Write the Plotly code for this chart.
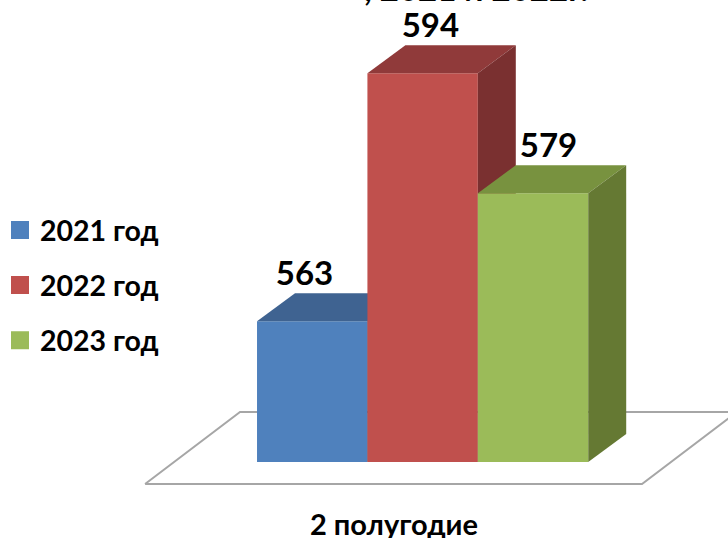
import plotly.graph_objects as go

SERIES = ["2021 год", "2022 год", "2023 год"]
VALUES = [563, 594, 579]
CATEGORY = "2 полугодие"
TITLE_TAIL = ", 2021 и 2022г."
FRONT = ["#4F81BD", "#C0504D", "#9BBB59"]
TOP = ["#3F6391", "#903A3A", "#78923F"]
SIDE = ["#35547A", "#7A3030", "#657933"]

FONT = "Lato, Carlito, 'Open Sans', sans-serif"
BASE = 545.4
DX, DY = 0.344, 3.5       # projected depth of the 3-D columns, in axis units
X_RANGE = [-2.828, 3.766]
Y_RANGE = [541.025, 603.15]
LABEL_SHIFT = [-0.07, 0.07, 0.14]

fig = go.Figure()

# floor of the 3-D plot
fl, fr, bl, br = -1.514, 2.987, -0.654, 3.847
fy, by = 542.65, 551.65
fig.add_trace(go.Scatter(x=[fl, fr, br, bl, fl], y=[fy, fy, by, by, fy], mode="lines",
                         line=dict(color="#A6A6A6", width=2), showlegend=False, hoverinfo="skip"))

for i, (name, v) in enumerate(zip(SERIES, VALUES)):
    ax = dict(xaxis="x" + str(i + 2), yaxis="y" + str(i + 2))
    l, r = i - 0.5, i + 0.5
    fig.add_trace(go.Bar(x=[i], y=[v - BASE], base=BASE, width=1, name=name, showlegend=False,
                         legendgroup=name, marker=dict(color=FRONT[i], line=dict(width=0)), **ax))
    fig.add_trace(go.Scatter(x=[l, r, r + DX, l + DX, l], y=[v, v, v + DY, v + DY, v], fill="toself",
                             mode="none", fillcolor=TOP[i], showlegend=False, hoverinfo="skip", **ax))
    fig.add_trace(go.Scatter(x=[r, r + DX, r + DX, r, r], y=[v, v + DY, BASE + DY, BASE, v], fill="toself",
                             mode="none", fillcolor=SIDE[i], showlegend=False, hoverinfo="skip", **ax))
    fig.add_trace(go.Scatter(x=[i + LABEL_SHIFT[i]], y=[v + DY], mode="text", text=[str(v)],
                             textposition="top center",
                             textfont=dict(family=FONT, size=33, color="black", weight="bold"),
                             showlegend=False, hoverinfo="skip", **ax))
    # legend key: a larger square than the fixed swatch of a bar trace
    fig.add_trace(go.Scatter(x=[None], y=[None], mode="markers", name=name, legendgroup=name,
                             marker=dict(symbol="square", size=16, color=FRONT[i],
                                         line=dict(color=FRONT[i], width=2)), **ax))

layout = dict(
    width=728, height=538, margin=dict(l=0, r=0, t=0, b=41),
    paper_bgcolor="white", plot_bgcolor="white", barmode="overlay",
    xaxis=dict(range=X_RANGE, automargin=False, showgrid=False, zeroline=False, showline=False,
               ticks="outside", ticklen=2, tickcolor="white",
               tickmode="array", tickvals=[0.74], ticktext=[CATEGORY],
               tickfont=dict(family=FONT, size=29, color="black", weight="bold")),
    yaxis=dict(range=Y_RANGE, visible=False),
    legend=dict(x=0, y=1 - 205 / 497, xanchor="left", yanchor="top", tracegroupgap=15,
                font=dict(family=FONT, size=28.5, color="black", weight="bold"),
                bgcolor="rgba(0,0,0,0)"),
    annotations=[dict(text=TITLE_TAIL, xref="paper", yref="paper", x=476 / 728, y=1 + 12 / 497,
                      xanchor="center", yanchor="middle", showarrow=False,
                      font=dict(family=FONT, size=33, color="black", weight="bold"))],
)
for k in (2, 3, 4):
    layout[f"xaxis{k}"] = dict(range=X_RANGE, overlaying="x", visible=False)
    layout[f"yaxis{k}"] = dict(range=Y_RANGE, overlaying="y", visible=False)
fig.update_layout(**layout)
fig.write_html("out.html", config=dict(displayModeBar=False),
               post_script="document.body.style.margin='0';")
